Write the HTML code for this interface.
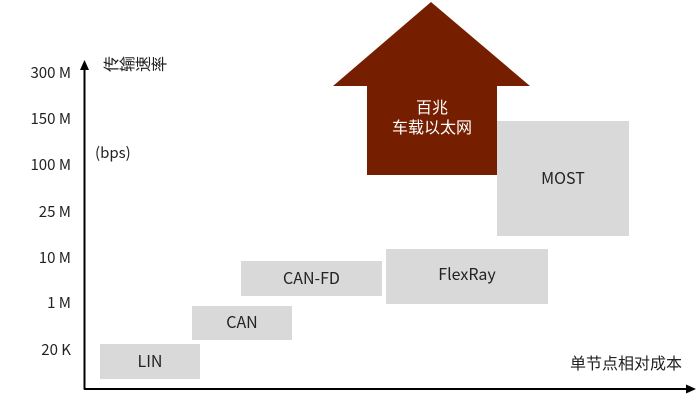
<!DOCTYPE html>
<html><head><meta charset="utf-8"><style>
body{margin:0;width:700px;height:403px;background:#fff;position:relative;overflow:hidden;font-family:"Noto Sans CJK SC","Liberation Sans",sans-serif;color:#222}
.l{position:absolute;font-size:15px;line-height:18px;text-align:right;width:71px;left:0}
.b{position:absolute;background:#d9d9d9;font-size:16px;display:flex;align-items:center;justify-content:center;color:#222;box-sizing:border-box;padding-bottom:4px}
.v{display:inline-block;transform:rotate(-90deg)}
</style></head><body>
<svg width="700" height="403" style="position:absolute;left:0;top:0">
<polygon points="431,2 530,86 497,86 497,175 367,175 367,86 333,86" fill="#761f00"/>
<line x1="84.5" y1="68" x2="84.5" y2="389.5" stroke="#000" stroke-width="2"/>
<polygon points="80,70 89,70 84.5,60" fill="#000"/>
<line x1="84" y1="389" x2="688" y2="389" stroke="#000" stroke-width="2"/>
<polygon points="686,384.5 686,393.5 696,389" fill="#000"/>
</svg>
<div class="l" style="top:64px">300 M</div>
<div class="l" style="top:110px">150 M</div>
<div class="l" style="top:156px">100 M</div>
<div class="l" style="top:203px">25 M</div>
<div class="l" style="top:249px">10 M</div>
<div class="l" style="top:294px">1 M</div>
<div class="l" style="top:341px">20 K</div>
<div style="position:absolute;left:95px;top:144px;font-size:15px;line-height:18px">(bps)</div>
<div style="position:absolute;left:102px;top:55px;font-size:16px;line-height:18px"><span class="v">传</span><span class="v">输</span><span class="v">速</span><span class="v">率</span></div>
<div style="position:absolute;left:570px;top:352px;font-size:16px;line-height:20px">单节点相对成本</div>
<div class="b" style="left:100px;top:344px;width:100px;height:35px">LIN</div>
<div class="b" style="left:192px;top:306px;width:100px;height:34px">CAN</div>
<div class="b" style="left:241px;top:261px;width:141px;height:35px">CAN-FD</div>
<div class="b" style="left:386px;top:249px;width:162px;height:55px;padding-bottom:8px">FlexRay</div>
<div class="b" style="left:497px;top:121px;width:132px;height:115px">MOST</div>
<div style="position:absolute;left:367px;top:96px;width:130px;text-align:center;color:#fff;font-size:16px;line-height:20px">百兆<br>车载以太网</div>
</body></html>
